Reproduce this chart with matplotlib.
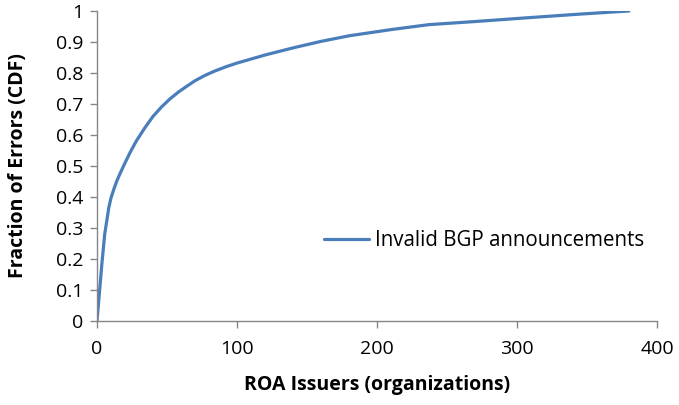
import matplotlib
matplotlib.use("Agg")
import matplotlib.pyplot as plt

issuers = [0, 1.9, 3.6, 5.5, 8.4, 10, 12, 14, 16.7, 20, 23.8, 28, 34, 40, 46, 52, 58, 64, 70, 77, 84, 92, 100, 120, 140, 160, 180, 210, 237, 270, 310, 345, 380]
cdf = [0, 0.1, 0.19, 0.28, 0.365, 0.397, 0.425, 0.45, 0.478, 0.51, 0.545, 0.58, 0.622, 0.66, 0.69, 0.716, 0.738, 0.757, 0.775, 0.792, 0.806, 0.82, 0.832, 0.858, 0.881, 0.902, 0.92, 0.94, 0.956, 0.966, 0.979, 0.99, 1.0]
series_name = "Invalid BGP announcements"
xticks = [0, 100, 200, 300, 400]
yticks = [0, 0.1, 0.2, 0.3, 0.4, 0.5, 0.6, 0.7, 0.8, 0.9, 1]
ytick_labels = ["0", "0.1", "0.2", "0.3", "0.4", "0.5", "0.6", "0.7", "0.8", "0.9", "1"]

plt.rcParams['font.family'] = ['Open Sans', 'DejaVu Sans']

fig = plt.figure(figsize=(6.79, 4.05), dpi=100)
ax = fig.add_axes([97/679, 84/405, 560/679, 310/405])
ax.plot(issuers, cdf, color='#4A7EBB', lw=2.3, label=series_name,
        solid_capstyle='round', solid_joinstyle='round')
ax.set_xlim(0, 400)
ax.set_ylim(0, 1)
ax.set_xticks(xticks)
ax.set_xticklabels([str(v) for v in xticks])
ax.set_yticks(yticks)
ax.set_yticklabels(ytick_labels)
for s in ['top', 'right']:
    ax.spines[s].set_visible(False)
for s in ['left', 'bottom']:
    ax.spines[s].set_color('#868686')
    ax.spines[s].set_linewidth(1.0)
ax.tick_params(axis='both', colors='#868686', length=5, width=1.0, labelcolor='black', labelsize=14)
ax.tick_params(axis='x', pad=9)
ax.tick_params(axis='y', pad=5)
ax.set_xlabel("ROA Issuers (organizations)", fontsize=14, fontweight='bold', labelpad=12)
ax.set_ylabel("Fraction of Errors (CDF)", fontsize=14, fontweight='bold', labelpad=20)
leg = ax.legend(loc='center left', bbox_to_anchor=(0.39, 0.26), frameon=False,
                fontsize=14.8, handlelength=2.2, handletextpad=0.3, borderaxespad=0)
fig.savefig("out.png", dpi=100)
